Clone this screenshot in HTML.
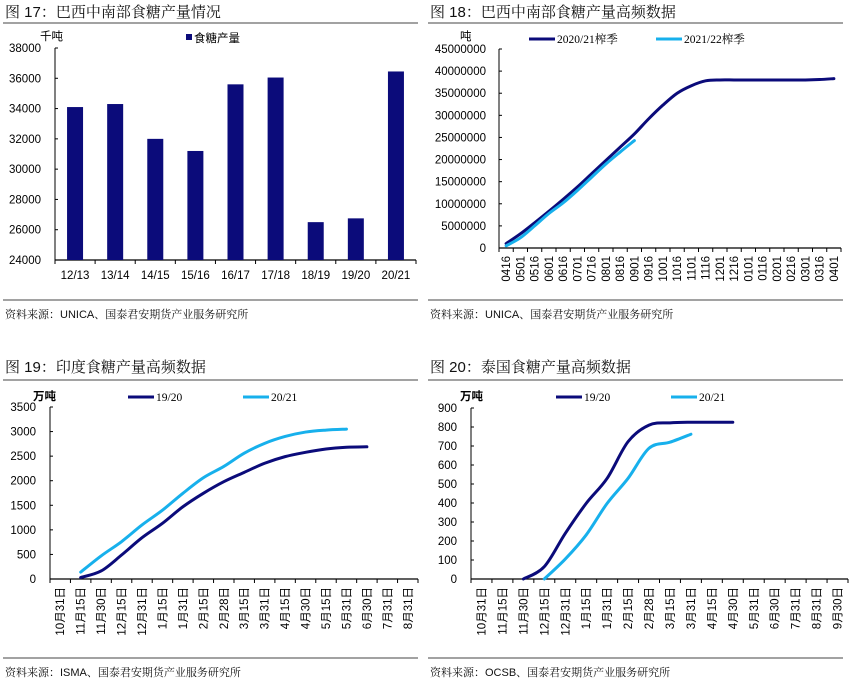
<!DOCTYPE html>
<html><head><meta charset="utf-8"><style>
body{margin:0;background:#fff;}
svg{display:block;font-family:"Liberation Sans","Noto Sans CJK SC",sans-serif;}
.t{font-family:"Liberation Sans","Noto Serif CJK SC",serif;font-size:15px;fill:#111;}
.s{font-family:"Liberation Sans","Noto Serif CJK SC",serif;font-size:11px;fill:#111;}
.tk{font-size:11.5px;fill:#000;}
</style></head><body>
<svg id="c" width="853" height="688" viewBox="0 0 853 688" xmlns="http://www.w3.org/2000/svg">
<rect width="853" height="688" fill="#fff"/>
</svg>
<script>
// Fig 17 data
const p1Cats = ['12/13','13/14','14/15','15/16','16/17','17/18','18/19','19/20','20/21'];
const p1Vals = [34100,34300,32000,31200,35600,36050,26500,26750,36450];
const p1Ticks = [24000,26000,28000,30000,32000,34000,36000,38000];
// Fig 18 data
const p2Cats = ['0416','0501','0516','0601','0616','0701','0716','0801','0816','0901','0916','1001','1016','1101','1116','1201','1216','0101','0116','0201','0216','0301','0316','0401'];
const p2SeriesA = [1.0,3.2,5.7,8.3,11.0,13.8,16.8,19.8,22.8,25.8,29.2,32.3,35.0,36.7,37.8,38.0,38.0,38.0,38.0,38.0,38.0,38.0,38.1,38.3];
const p2SeriesB = [0.5,2.3,5.0,7.8,10.2,13.0,16.0,19.0,21.7,24.3];
const p2Ticks = [0,5000000,10000000,15000000,20000000,25000000,30000000,35000000,40000000,45000000];
// Fig 19 data
const p3Cats = ['10月31日','11月15日','11月30日','12月15日','12月31日','1月15日','1月31日','2月15日','2月28日','3月15日','3月31日','4月15日','4月30日','5月15日','5月31日','6月30日','7月31日','8月31日'];
const p3SeriesA = [null,30,163,488,840,1133,1470,1744,1980,2170,2355,2490,2578,2645,2680,2690];
const p3SeriesB = [null,140,470,760,1100,1400,1744,2060,2290,2560,2760,2900,2990,3030,3050];
const p3Ticks = [0,500,1000,1500,2000,2500,3000,3500];
// Fig 20 data
const p4Cats = ['10月31日','11月15日','11月30日','12月15日','12月31日','1月15日','1月31日','2月15日','2月28日','3月15日','3月31日','4月15日','4月30日','5月31日','6月30日','7月31日','8月31日','9月30日'];
const p4SeriesA = [null,null,0,65,240,398,530,723,810,822,825,825,825];
const p4SeriesB = [null,null,null,0,105,232,398,530,688,720,762];
const p4Ticks = [0,100,200,300,400,500,600,700,800,900];

const svg = document.getElementById('c');
const NS = 'http://www.w3.org/2000/svg';
function mk(tag, attrs, parent){const e=document.createElementNS(NS,tag);for(const k in attrs)e.setAttribute(k,attrs[k]);(parent||svg).appendChild(e);return e;}
function txt(s, attrs, parent){const e=mk('text',attrs,parent);e.textContent=s;return e;}
function smooth(pts){
  if(pts.length<2)return '';
  let d='M'+pts[0][0]+','+pts[0][1];
  for(let i=0;i<pts.length-1;i++){
    const p0=pts[i-1]||pts[i],p1=pts[i],p2=pts[i+1],p3=pts[i+2]||p2;
    const c1x=p1[0]+(p2[0]-p0[0])/6,c1y=p1[1]+(p2[1]-p0[1])/6;
    const c2x=p2[0]-(p3[0]-p1[0])/6,c2y=p2[1]-(p3[1]-p1[1])/6;
    d+=' C'+c1x+','+c1y+' '+c2x+','+c2y+' '+p2[0]+','+p2[1];
  }
  return d;
}
function frame(x0,x1,titleY,lineY,botY,srcY,title,src,n){
  const g=mk('g',{});
  
  
  const t=txt(title,{x:x0+2,y:titleY,class:'t'},g);
  
  
  mk('line',{x1:x0,x2:x1,y1:lineY,y2:lineY,stroke:'#444','stroke-width':1},g);
  mk('line',{x1:x0,x2:x1,y1:botY,y2:botY,stroke:'#444','stroke-width':1},g);
  const s=txt(src,{x:x0+2,y:srcY,class:'s'},g);
  
  
  return g;
}
function yAxis(g,x,yTop,yBot,ticks,min,max,labX){
  const sy=v=>yBot-(v-min)/(max-min)*(yBot-yTop);
  mk('line',{x1:x,x2:x,y1:yTop,y2:yBot,stroke:'#000','stroke-width':1},g);
  ticks.forEach(v=>{
    mk('line',{x1:x,x2:x+3,y1:sy(v),y2:sy(v),stroke:'#000'},g);
    const l=txt(String(v),{x:labX,y:sy(v)+4,'text-anchor':'end',class:'tk'},g);
    
    
  });
  return sy;
}
function xCatAxis(g,x0,x1,y,cats,rot){
  const w=(x1-x0)/cats.length;
  mk('line',{x1:x0,x2:x1,y1:y,y2:y,stroke:'#000','stroke-width':1.2},g);
  for(let i=0;i<=cats.length;i++) mk('line',{x1:x0+i*w,x2:x0+i*w,y1:y,y2:y+4,stroke:'#000'},g);
  cats.forEach((c,i)=>{
    const cx=x0+(i+0.5)*w;
    let l;
    if(rot) l=txt(c,{x:0,y:0,transform:`translate(${cx+4},${y+8}) rotate(-90)`,'text-anchor':'end',class:'tk','font-size':'12.5'},g);
    else l=txt(c,{x:cx,y:y+19,'text-anchor':'middle',class:'tk','font-size':'12'},g);
    
    
  });
  return i=>x0+(i+0.5)*w;
}
function line(g,xs,sy,vals,color,name){
  const pts=[];vals.forEach((v,i)=>{if(v!==null)pts.push([xs(i),sy(v)]);});
  const p=mk('path',{d:smooth(pts),fill:'none',stroke:color,'stroke-width':3,'stroke-linecap':'round'},g);
  
  
}
function legendLine(g,x,y,color,label){
  mk('line',{x1:x,x2:x+26,y1:y,y2:y,stroke:color,'stroke-width':3},g);
  const l=txt(label,{x:x+28,y:y+4,class:'tk','font-family':'"Liberation Serif","Noto Serif CJK SC",serif','font-size':'12.5'},g);
  
  
}
const DARK='#0b0b7a', LIGHT='#17b0ec';

// Panel 1
{
  const g=frame(3,418,17,23,300,318,'图 17：巴西中南部食糖产量情况','资料来源：UNICA、国泰君安期货产业服务研究所',17);
  const sy=yAxis(g,55,48,260,p1Ticks,24000,38000,41);
  const xs=xCatAxis(g,55,416,260,p1Cats,false);
  p1Vals.forEach((v,i)=>{
    const r=mk('rect',{x:xs(i)-8,y:sy(v),width:16,height:260-sy(v),fill:DARK},g);
    
    
  });
  const u=txt('千吨',{x:40,y:40,class:'tk','font-size':'11'},g);
  
  
  mk('rect',{x:186,y:34,width:6,height:6,fill:DARK},g);
  const l=txt('食糖产量',{x:194,y:42,class:'tk','font-size':'12'},g);
  
  
}
// Panel 2
{
  const g=frame(428,843,17,23,300,318,'图 18：巴西中南部食糖产量高频数据','资料来源：UNICA、国泰君安期货产业服务研究所',18);
  const sy=yAxis(g,499,49,248,p2Ticks,0,45000000,486);
  const xs=xCatAxis(g,499,841,248,p2Cats,true);
  const syM=v=>sy(v*1000000);
  line(g,xs,syM,p2SeriesA,DARK,'series-2020-21');
  line(g,xs,syM,p2SeriesB,LIGHT,'series-2021-22');
  const u=txt('吨',{x:460,y:40,class:'tk','font-size':'12'},g);
  
  
  legendLine(g,529,39,DARK,'2020/21榨季');
  legendLine(g,656,39,LIGHT,'2021/22榨季');
}
// Panel 3
{
  const g=frame(3,418,372,380,658,676,'图 19：印度食糖产量高频数据','资料来源：ISMA、国泰君安期货产业服务研究所',19);
  const sy=yAxis(g,50,407,579,p3Ticks,0,3500,36);
  const xs=xCatAxis(g,50,418,579,p3Cats,true);
  line(g,xs,sy,p3SeriesA,DARK,'series-19-20');
  line(g,xs,sy,p3SeriesB,LIGHT,'series-20-21');
  const u=txt('万吨',{x:33,y:400,class:'tk','font-size':'12','font-weight':'bold'},g);
  
  
  legendLine(g,128,397,DARK,'19/20');
  legendLine(g,243,397,LIGHT,'20/21');
}
// Panel 4
{
  const g=frame(428,843,372,380,658,676,'图 20：泰国食糖产量高频数据','资料来源：OCSB、国泰君安期货产业服务研究所',20);
  const sy=yAxis(g,471,408,579,p4Ticks,0,900,457);
  const xs=xCatAxis(g,471,848,579,p4Cats,true);
  line(g,xs,sy,p4SeriesA,DARK,'series-19-20');
  line(g,xs,sy,p4SeriesB,LIGHT,'series-20-21');
  const u=txt('万吨',{x:460,y:400,class:'tk','font-size':'12','font-weight':'bold'},g);
  
  
  legendLine(g,556,397,DARK,'19/20');
  legendLine(g,671,397,LIGHT,'20/21');
}
</script>
</body></html>
